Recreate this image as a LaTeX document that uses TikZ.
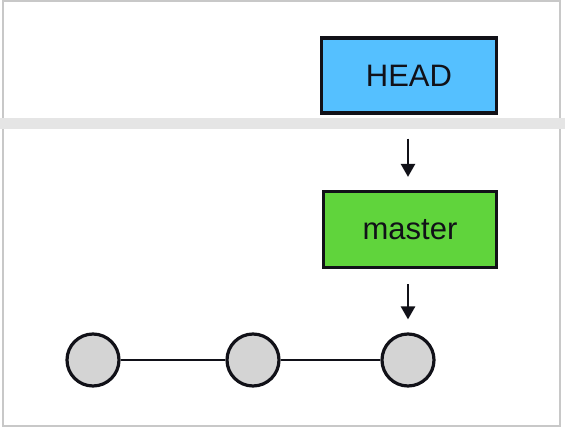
\documentclass[tikz,border=0pt]{standalone}
\usepackage{fontspec}
\setmainfont{Liberation Sans}
\usetikzlibrary{arrows.meta}
\definecolor{headblue}{RGB}{85,192,255}
\definecolor{branchgreen}{RGB}{96,212,60}
\definecolor{commitgray}{RGB}{212,212,212}
\definecolor{framegray}{RGB}{200,200,200}
\definecolor{bandgray}{RGB}{229,229,229}
\definecolor{inkdark}{RGB}{17,17,24}
\tikzset{
  refbox/.style={rectangle, draw=inkdark, line width=3.2pt, inner sep=0pt,
    text=inkdark, font=\fontsize{31}{36}\selectfont},
  commit/.style={circle, draw=inkdark, line width=3.2pt, fill=commitgray,
    minimum size=52pt, inner sep=0pt},
  pointer/.style={-{Triangle[length=13pt,width=14pt]}, line width=2.6pt, inkdark}
}
\begin{document}
\begin{tikzpicture}[x=1pt, y=-1pt]
  \useasboundingbox (0,0) rectangle (565,428);
  \fill[white] (0,0) rectangle (565,428);
  \draw[framegray, line width=2pt] (3,1) -- (560,1) -- (560,426) -- (3,426) -- cycle;

  \node[refbox, fill=headblue, minimum width=175pt, minimum height=75pt] (head) at (409,75.5) {HEAD};
  \node[refbox, fill=branchgreen, minimum width=173pt, minimum height=76pt] (master) at (410,229.5) {master};

  % commits
  \foreach \i/\x in {1/93, 2/253, 3/408}
  {
    \node[commit] (c\i) at (\x,360) {};
  }
  \draw[line width=2.6pt, inkdark] (c1) -- (c2);
  \draw[line width=2.6pt, inkdark] (c2) -- (c3);

  \fill[bandgray] (0,118) rectangle (565,129);

  \draw[pointer, shorten <=24pt, shorten >=13pt] (head.south -| 408,0) -- (master.north -| 408,0);
  \draw[pointer, shorten <=15pt, shorten >=13pt] (master.south -| 408,0) -- (c3);
\end{tikzpicture}
\end{document}
